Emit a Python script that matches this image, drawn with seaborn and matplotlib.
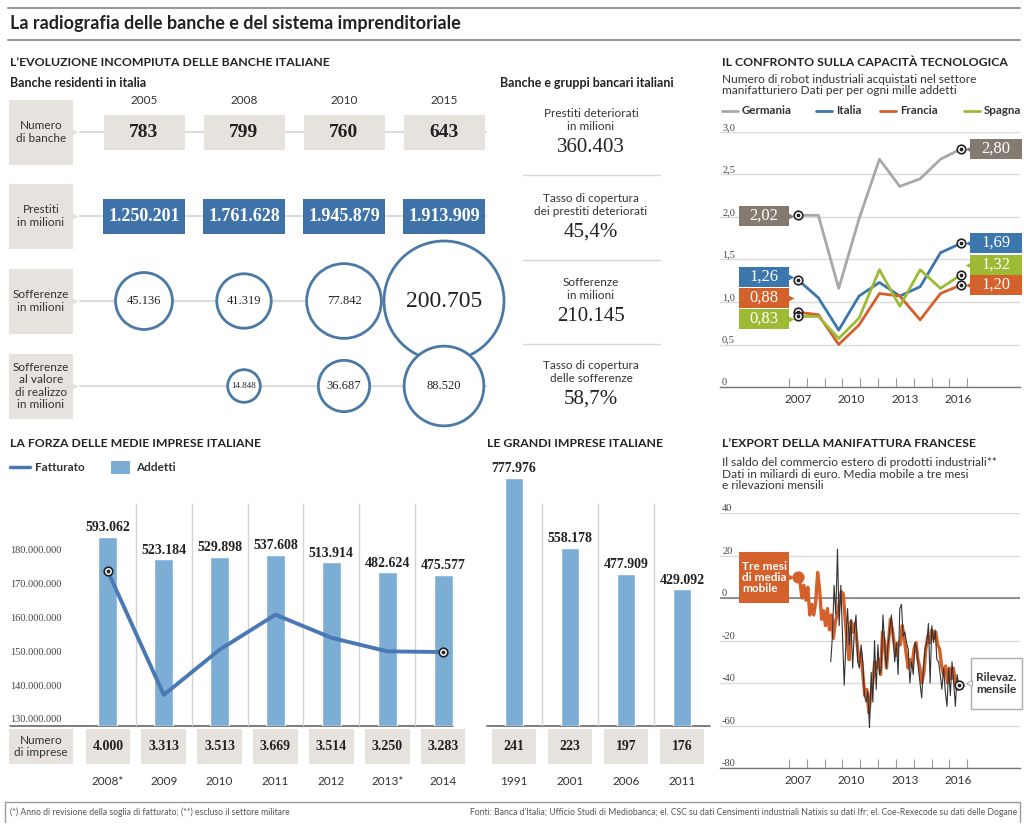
import numpy as np
import pandas as pd
import matplotlib
matplotlib.use("Agg")
import matplotlib.pyplot as plt
import matplotlib.patches as mpatches
from matplotlib.transforms import blended_transform_factory
import seaborn as sns

sns.set_theme(style="white")
plt.rcParams["font.family"] = ["Lato", "DejaVu Sans"]
SERIF = ["Liberation Serif", "DejaVu Serif"]

# ── Data ──────────────────────────────────────────────────────
bank_years = ["2005", "2008", "2010", "2015"]
numero_banche = [783, 799, 760, 643]
prestiti = [1250201, 1761628, 1945879, 1913909]
sofferenze = [45136, 41319, 77842, 200705]
sofferenze_realizzo = [np.nan, 14848, 36687, 88520]
bank_rows = ["Numero\ndi banche", "Prestiti\nin milioni", "Sofferenze\nin milioni",
             "Sofferenze\nal valore\ndi realizzo\nin milioni"]

gruppi_labels = ["Prestiti deteriorati\nin milioni", "Tasso di copertura\ndei prestiti deteriorati",
                 "Sofferenze\nin milioni", "Tasso di copertura\ndelle sofferenze"]
gruppi_values = ["360.403", "45,4%", "210.145", "58,7%"]

robot_countries = ["Germania", "Italia", "Francia", "Spagna"]
robot_germania = [2.02, 2.02, 1.16, 1.98, 2.68, 2.36, 2.45, 2.68, 2.80]
robot_italia = [1.26, 1.05, 0.67, 1.07, 1.23, 1.07, 1.18, 1.58, 1.69]
robot_francia = [0.88, 0.85, 0.50, 0.73, 1.10, 1.07, 0.79, 1.10, 1.20]
robot_spagna = [0.83, 0.83, 0.57, 0.81, 1.38, 0.95, 1.38, 1.16, 1.32]
robot_ticks = [0, 0.5, 1.0, 1.5, 2.0, 2.5, 3.0]
time_labels = [2007, 2010, 2013, 2016]

medie_years = ["2008*", "2009", "2010", "2011", "2012", "2013*", "2014"]
medie_addetti = [593062, 523184, 529898, 537608, 513914, 482624, 475577]
medie_fatturato = [173.4e6, 137.1e6, 150.4e6, 160.7e6, 153.9e6, 149.9e6, 149.7e6]
medie_imprese = [4000, 3313, 3513, 3669, 3514, 3250, 3283]
fatturato_ticks = [130e6, 140e6, 150e6, 160e6, 170e6, 180e6]

grandi_years = ["1991", "2001", "2006", "2011"]
grandi_addetti = [777976, 558178, 477909, 429092]
grandi_imprese = [241, 223, 197, 176]

export_ma = [10, 8, 0, 6, -1, 5, -8, -3, -8, -2, 12, 4, -10, -6, -13, -5, -15, -8, -19,
             -11, -8, -2, 3, 2, -10, -21, -29, -11, -16, -12, -21, -30, -26, -36, -46,
             -43, -54, -46, -40, -30, -33, -29, -36, -16, -21, -33, -21, -10, -15, -22,
             -27, -21, -22, -13, -19, -26, -33, -29, -32, -24, -21, -29, -33, -40, -35,
             -24, -18, -21, -15, -19, -16, -22, -24, -32, -36, -32, -40, -33, -38, -33,
             -40, -43, -41]
export_monthly = [-30, -18, 6, -8, 23, -13, 6, -18, -41, -21, -5, -22, -10, -33, -15, -8,
                  -30, -33, -22, -30, -46, -49, -44, -61, -35, -49, -20, -43, -22, -36,
                  -33, -8, -21, -33, -22, -15, -8, -19, -30, -21, -36, -5, -3, -18, -16,
                  -21, -24, -40, -30, -36, -21, -24, -33, -40, -47, -33, -24, -21, -12,
                  -40, -13, -21, -15, -29, -30, -36, -43, -33, -44, -51, -33, -46, -30,
                  -40, -51, -36, -41]
export_ticks = [-80, -60, -40, -20, 0, 20, 40]

# ── Style ─────────────────────────────────────────────────────
GRAYBOX = "#e6e3de"
BLUEBOX = "#3f72a8"
CIRCLE = "#4b79a6"
BAR = "#7cadd5"
LINE = "#4a78b5"
GRID = "#dadada"
TXT = "#222222"
robot_colors = {"Germania": "#a8a8a8", "Italia": "#3b76ad",
                "Francia": "#d4602b", "Spagna": "#9dba35"}
robot_box_colors = {"Germania": "#857a6f", "Italia": "#3b76ad",
                    "Francia": "#d4602b", "Spagna": "#9dba35"}


def it(v):
    return f"{v:,.0f}".replace(",", ".")


def dec(v):
    return f"{v:.2f}".replace(".", ",")


W, H = 1024, 830
fig = plt.figure(figsize=(W / 100, H / 100), dpi=100)
bg = fig.add_axes([0, 0, 1, 1])
bg.set_xlim(0, W)
bg.set_ylim(H, 0)
bg.axis("off")


def panel(x0, y0, x1, y1):
    ax = fig.add_axes([x0 / W, 1 - y1 / H, (x1 - x0) / W, (y1 - y0) / H])
    ax.patch.set_alpha(0)
    return ax


# ── Header ────────────────────────────────────────────────────
bg.plot([8, 1020], [8, 8], color="#9a9a9a", lw=1.5)
bg.plot([8, 1020], [40, 40], color="#9a9a9a", lw=1.5)
bg.text(10, 24, "La radiografia delle banche e del sistema imprenditoriale",
        fontsize=13, weight="bold", va="center", color=TXT)

# ══════════════════════════════════════════════════════════════
# Banche residenti in Italia
# ══════════════════════════════════════════════════════════════
bg.text(10, 63, "L\u2019EVOLUZIONE INCOMPIUTA DELLE BANCHE ITALIANE", fontsize=8.8,
        weight="bold", va="center", color=TXT)
bg.text(10, 83, "Banche residenti in italia", fontsize=9, weight="bold", va="center", color=TXT)

col_x = [144, 244, 344, 444]
row_y = [132, 216, 301, 386]
for y, lab in zip(row_y, bank_rows):
    bg.add_patch(mpatches.Rectangle((9, y - 32), 64, 65, fc=GRAYBOX, ec="none"))
    bg.text(41, y, lab, ha="center", va="center", fontsize=8.5, color="#333", linespacing=1.15)
    bg.plot([80, 486], [y, y], color="#dcdcdc", lw=1.5, zorder=0.5)
    bg.plot([75], [y], marker=">", ms=4, color=GRAYBOX, mec="none")

for x, yr in zip(col_x, bank_years):
    bg.text(x, 100, yr, ha="center", va="center", fontsize=8.5, color="#333")

for x, v in zip(col_x, numero_banche):
    bg.add_patch(mpatches.Rectangle((x - 40, 115), 81, 35, fc=GRAYBOX, ec="none", zorder=2))
    bg.text(x, 132.5, it(v), ha="center", va="center", fontsize=14, weight="bold",
            family=SERIF, color=TXT, zorder=3)

for x, v in zip(col_x, prestiti):
    bg.add_patch(mpatches.Rectangle((x - 41, 199), 82, 35, fc=BLUEBOX, ec="none", zorder=2))
    bg.text(x, 216.5, it(v), ha="center", va="center", fontsize=13, weight="bold",
            family=SERIF, color="white", zorder=3)

circ = pd.DataFrame({"x": col_x * 2, "y": [301] * 4 + [386] * 4,
                     "v": sofferenze + sofferenze_realizzo}).dropna()
bg.scatter(circ["x"], circ["y"], s=0.0372 * circ["v"], fc="white", ec=CIRCLE,
           lw=2, zorder=2)
vmax = circ["v"].max()
for _, r in circ.iterrows():
    fs = 17 if r["v"] == vmax else (6.5 if r["v"] < 20000 else 9)
    bg.text(r["x"], r["y"], it(r["v"]), ha="center", va="center", fontsize=fs,
            family=SERIF, color=TXT, zorder=3)

# ── Banche e gruppi bancari ───────────────────────────────────
bg.text(500, 83, "Banche e gruppi bancari italiani", fontsize=9, weight="bold",
        va="center", color=TXT)
gy = [120, 205, 289, 372]
for i, (y, lab, val) in enumerate(zip(gy, gruppi_labels, gruppi_values)):
    bg.text(591, y, lab, ha="center", va="center", fontsize=8.5, color="#333",
            linespacing=1.15)
    bg.text(591, y + 27, val, ha="center", va="center", fontsize=15, family=SERIF,
            color=TXT)
    if i < 3:
        bg.plot([523, 660], [y + 55, y + 55], color="#d5d5d5", lw=1)


# ══════════════════════════════════════════════════════════════
# Capacità tecnologica (robot)
# ══════════════════════════════════════════════════════════════
def time_axis(ax):
    ax.set_xlim(2002.62, 2019.47)
    for s in ["left", "right", "top"]:
        ax.spines[s].set_visible(False)
    ax.spines["bottom"].set_color("#777")
    ax.spines["bottom"].set_linewidth(1)
    ax.set_xticks(time_labels, [str(t) for t in time_labels], fontsize=8.5, color="#333")
    ax.set_xticks(np.arange(2006.5, 2017, 1), minor=True)
    ax.tick_params(axis="x", which="major", length=0, pad=5)
    ax.tick_params(axis="x", which="minor", bottom=True, direction="in", length=6.5,
                   width=0.8, color="#999")
    ax.tick_params(axis="y", length=0, pad=-1.5)
    ax.grid(axis="y", color=GRID, lw=1)
    ax.set_xlabel("")
    ax.set_ylabel("")


bg.text(722, 63, "IL CONFRONTO SULLA CAPACIT\u00c0 TECNOLOGICA", fontsize=8.8, weight="bold",
        va="center", color=TXT)
bg.text(722, 85, "Numero di robot industriali acquistati nel settore\n"
        "manifatturiero Dati per per ogni mille addetti", fontsize=8.6, va="center",
        color="#333", linespacing=1.1)
leg_x = [722, 816, 880, 964]
for x, c in zip(leg_x, robot_countries):
    bg.plot([x, x + 16], [111, 111], color=robot_colors[c], lw=2)
    bg.text(x + 20, 111, c, fontsize=8.3, weight="bold", va="center", color="#333")

ax_r = panel(720, 132, 1020, 387)
robot_x = np.linspace(2007, 2016.15, len(robot_germania))
robot_df = pd.DataFrame({
    "x": np.tile(robot_x, 4),
    "valore": robot_germania + robot_italia + robot_francia + robot_spagna,
    "paese": np.repeat(robot_countries, len(robot_x)),
})
sns.lineplot(data=robot_df, x="x", y="valore", hue="paese", palette=robot_colors,
             linewidth=2, legend=False, ax=ax_r)
ax_r.set_ylim(0, 3)
ax_r.set_yticks(robot_ticks, [("0" if t == 0 else f"{t:.1f}".replace(".", ",")) for t in robot_ticks],
                ha="left", va="bottom", fontsize=7.5, family=SERIF, color="#444")
time_axis(ax_r)
ends = robot_df.groupby("paese").agg(x0=("x", "first"), y0=("valore", "first"),
                                     x1=("x", "last"), y1=("valore", "last"))
for c, r in ends.iterrows():
    for xx, yy in [(r.x0, r.y0), (r.x1, r.y1)]:
        ax_r.scatter([xx], [yy], s=38, fc="white", ec="#222", lw=1.2, zorder=5, clip_on=False)
        ax_r.scatter([xx], [yy], s=3, c="#222", zorder=6, clip_on=False)

# ══════════════════════════════════════════════════════════════
# Medie imprese
# ══════════════════════════════════════════════════════════════
bg.text(10, 443, "LA FORZA DELLE MEDIE IMPRESE ITALIANE", fontsize=8.8, weight="bold",
        va="center", color=TXT)
bg.plot([10, 30], [467, 467], color=LINE, lw=2.5)
bg.text(35, 467, "Fatturato", fontsize=8.5, weight="bold", va="center", color="#333")
bg.add_patch(mpatches.Rectangle((111, 461), 19, 13, fc=BAR, ec="none"))
bg.text(136, 467, "Addetti", fontsize=8.5, weight="bold", va="center", color="#333")

YMAX = 266 * 3140
ax_m = panel(80, 460, 471, 726)
sns.barplot(x=medie_years, y=medie_addetti, color=BAR, saturation=1, width=0.34, ax=ax_m)
ax_m.set_xlim(-0.5, 6.5)
ax_m.set_ylim(0, YMAX)
ax_m.vlines(np.arange(0.5, 6, 1), 0, 223 * 3140, color="#d3d3d3", lw=1, zorder=0)
ax_m.bar_label(ax_m.containers[0], labels=[it(v) for v in medie_addetti], padding=2,
               fontsize=10, fontweight="bold", family=SERIF, color=TXT)
ax_m.axis("off")

ax_f = ax_m.twinx()
sns.lineplot(x=np.arange(len(medie_fatturato)), y=medie_fatturato, color=LINE,
             linewidth=2.8, ax=ax_f)
ax_f.set_ylim(127.94e6, 206.2e6)
for s in ax_f.spines.values():
    s.set_visible(False)
ax_f.yaxis.tick_left()
ax_f.set_yticks(fatturato_ticks, [it(t) for t in fatturato_ticks], ha="left",
                fontsize=7.5, family=SERIF, color="#444")
ax_f.tick_params(axis="y", length=0, pad=50.4)
ax_f.set_ylabel("")
ax_f.set_xticks([])
for i in [0, len(medie_fatturato) - 1]:
    ax_f.scatter([i], [medie_fatturato[i]], s=38, fc="white", ec="#222", lw=1.2, zorder=5)
    ax_f.scatter([i], [medie_fatturato[i]], s=3, c="#222", zorder=6)
bg.plot([10, 453], [726, 726], color="#666", lw=1.2)

tm = blended_transform_factory(ax_m.transData, bg.transData)
bg.add_patch(mpatches.Rectangle((9, 729), 64, 35, fc=GRAYBOX, ec="none"))
bg.text(41, 746.5, "Numero\ndi imprese", ha="center", va="center", fontsize=8.5,
        color="#333", linespacing=1.15)
for i, (n, yr) in enumerate(zip(medie_imprese, medie_years)):
    bg.add_patch(mpatches.Rectangle((i - 0.4, 729), 0.8, 35, fc=GRAYBOX, ec="none",
                                    transform=tm))
    bg.text(i, 746.5, it(n), ha="center", va="center", fontsize=10, weight="bold",
            family=SERIF, color=TXT, transform=tm)
    bg.text(i, 781, yr, ha="center", va="center", fontsize=8.5, color="#333", transform=tm)

# ══════════════════════════════════════════════════════════════
# Grandi imprese
# ══════════════════════════════════════════════════════════════
bg.text(487, 443, "LE GRANDI IMPRESE ITALIANE", fontsize=8.8, weight="bold",
        va="center", color=TXT)
ax_g = panel(486, 460, 710, 726)
sns.barplot(x=grandi_years, y=grandi_addetti, color=BAR, saturation=1, width=0.32, ax=ax_g)
ax_g.set_xlim(-0.5, 3.5)
ax_g.set_ylim(0, YMAX)
ax_g.vlines(np.arange(0.5, 3, 1), 0, 223 * 3140, color="#d3d3d3", lw=1, zorder=0)
ax_g.bar_label(ax_g.containers[0], labels=[it(v) for v in grandi_addetti], padding=2,
               fontsize=10, fontweight="bold", family=SERIF, color=TXT)
ax_g.axis("off")
bg.plot([487, 710], [726, 726], color="#666", lw=1.2)
tg = blended_transform_factory(ax_g.transData, bg.transData)
for i, (n, yr) in enumerate(zip(grandi_imprese, grandi_years)):
    bg.add_patch(mpatches.Rectangle((i - 0.4, 729), 0.8, 35, fc=GRAYBOX, ec="none",
                                    transform=tg))
    bg.text(i, 746.5, it(n), ha="center", va="center", fontsize=10, weight="bold",
            family=SERIF, color=TXT, transform=tg)
    bg.text(i, 781, yr, ha="center", va="center", fontsize=8.5, color="#333", transform=tg)

# ══════════════════════════════════════════════════════════════
# Export manifattura francese
# ══════════════════════════════════════════════════════════════
bg.text(722, 443, "L\u2019EXPORT DELLA MANIFATTURA FRANCESE", fontsize=8.8, weight="bold",
        va="center", color=TXT)
bg.text(722, 474, "Il saldo del commercio estero di prodotti industriali**\n"
        "Dati in miliardi di euro. Media mobile a tre mesi\ne rilevazioni mensili",
        fontsize=8.6, va="center", color="#333", linespacing=1.1)
ax_e = panel(720, 513, 1020, 768)
t_ma = np.linspace(2007.0, 2016.06, len(export_ma))
t_m = np.linspace(2008.84, 2016.03, len(export_monthly))
sns.lineplot(x=t_ma, y=export_ma, color="#d4602b", linewidth=2.4, ax=ax_e)
sns.lineplot(x=t_m, y=export_monthly, color="#333333", linewidth=0.8, ax=ax_e)
ax_e.set_ylim(-80, 40)
ax_e.set_yticks(export_ticks, [str(t) for t in export_ticks], ha="left", va="bottom",
                fontsize=7.5, family=SERIF, color="#444")
time_axis(ax_e)
ax_e.axhline(0, color="#777", lw=1.1, zorder=1)
ax_e.scatter([t_ma[0]], [export_ma[0]], s=60, c="#d4602b", zorder=5)
ax_e.scatter([t_ma[-1]], [export_ma[-1]], s=38, fc="white", ec="#222", lw=1.2, zorder=5)
ax_e.scatter([t_ma[-1]], [export_ma[-1]], s=3, c="#222", zorder=6)

# ── Overlay: value labels on top of the charts ────────────────
fg = fig.add_axes([0, 0, 1, 1])
fg.set_xlim(0, W)
fg.set_ylim(H, 0)
fg.axis("off")

left_y = {"Germania": 216, "Italia": 277, "Francia": 298, "Spagna": 319}
right_y = {"Germania": 149, "Italia": 243, "Spagna": 265, "Francia": 285}
for c, r in ends.iterrows():
    col = robot_box_colors[c]
    fg.add_patch(mpatches.Rectangle((739, left_y[c] - 10), 50, 20, fc=col, ec="none"))
    fg.text(764, left_y[c], dec(r.y0), ha="center", va="center", fontsize=12,
            family=SERIF, color="white")
    fg.plot([791], [left_y[c]], marker=">", ms=4, color=col, mec="none")
    fg.add_patch(mpatches.Rectangle((970, right_y[c] - 10), 52, 20, fc=col, ec="none"))
    fg.text(996, right_y[c], dec(r.y1), ha="center", va="center", fontsize=12,
            family=SERIF, color="white")
    fg.plot([967.5], [right_y[c]], marker="<", ms=4, color=col, mec="none")

fg.add_patch(mpatches.Rectangle((739, 552), 50, 51, fc="#d4602b", ec="none"))
fg.text(742, 577.5, "Tre mesi\ndi media\nmobile", ha="left", va="center", fontsize=8.5,
        weight="bold", color="white", linespacing=1.05)
fg.plot([791], [577], marker=">", ms=4, color="#d4602b", mec="none")
fg.add_patch(mpatches.Rectangle((971, 658), 51, 51, fc="white", ec="#aaaaaa", lw=1))
fg.text(996.5, 683.5, "Rilevaz.\nmensile", ha="center", va="center", fontsize=8.5,
        weight="bold", color="#333", linespacing=1.1)
fg.plot([968.5], [683], marker="<", ms=4.5, color="white", mec="#aaaaaa", mew=0.8)

# ── Footer ────────────────────────────────────────────────────
fg.plot([5, 1020], [802, 802], color="#999", lw=1)
fg.plot([5, 5], [802, 822], color="#999", lw=1)
fg.plot([1020, 1020], [802, 822], color="#999", lw=1)
fg.text(10, 812, "(*) Anno di revisione della soglia di fatturato; (**) escluso il settore militare",
        fontsize=6.2, va="center", color="#555")
fg.text(1017, 812, "Fonti: Banca d\u2019Italia; Ufficio Studi di Mediobanca; el. CSC su dati "
        "Censimenti industriali Natixis su dati Ifr; el. Coe-Rexecode su dati delle Dogane",
        fontsize=6.2, va="center", ha="right", color="#555")

fig.savefig("out.png", dpi=100)
